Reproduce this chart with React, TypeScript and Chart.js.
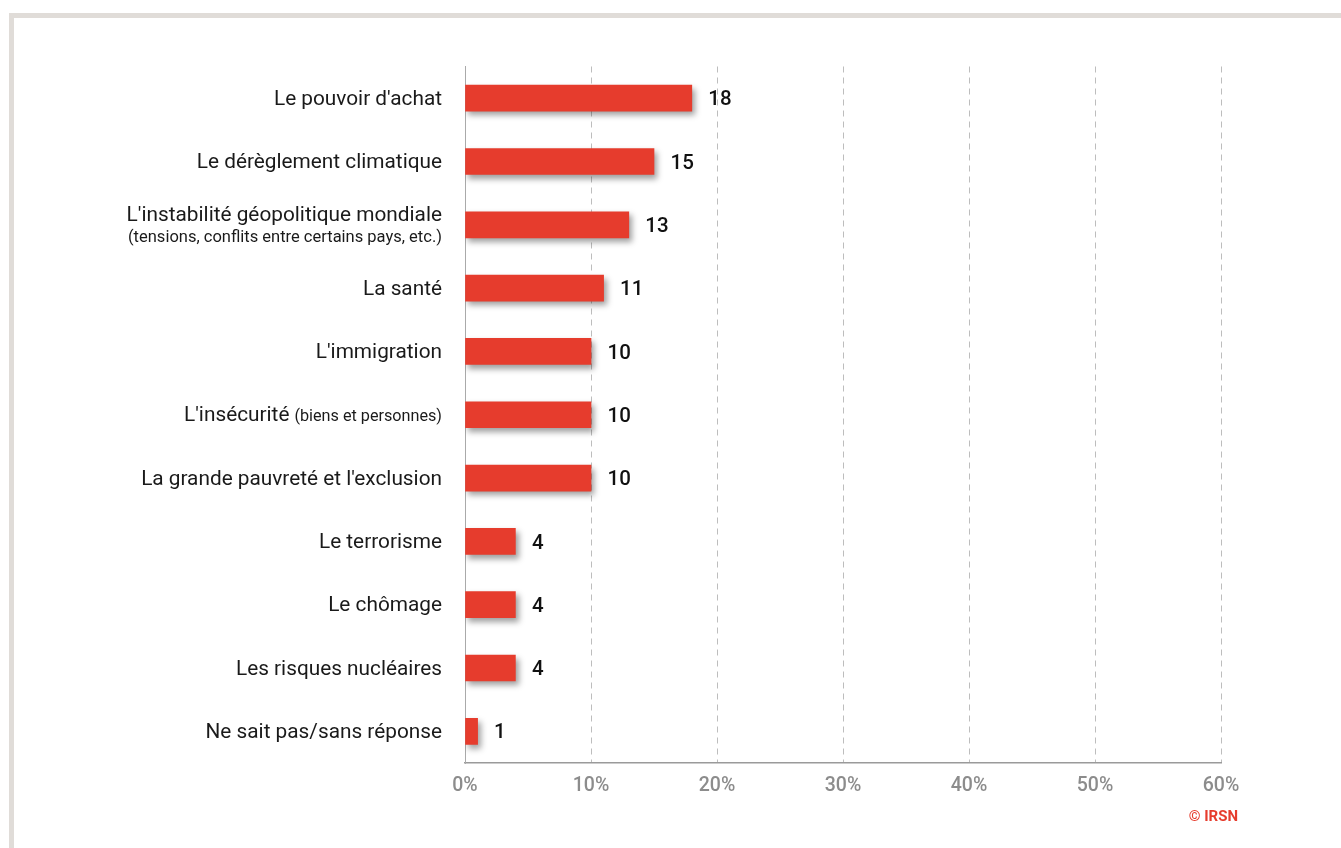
import React, { useEffect, useRef } from "react";
import { Chart, registerables } from "chart.js";

Chart.register(...registerables);

const categories = [
  "Le pouvoir d'achat",
  "Le dérèglement climatique",
  "L'instabilité géopolitique mondiale",
  "La santé",
  "L'immigration",
  "L'insécurité",
  "La grande pauvreté et l'exclusion",
  "Le terrorisme",
  "Le chômage",
  "Les risques nucléaires",
  "Ne sait pas/sans réponse",
];
const categoryNotes = ["", "", "(tensions, conflits entre certains pays, etc.)", "", "", "(biens et personnes)", "", "", "", "", ""];
const notePlacement = ["", "", "below", "", "", "inline", "", "", "", "", ""];
const values = [18, 15, 13, 11, 10, 10, 10, 4, 4, 4, 1];
const xTicks = [0, 10, 20, 30, 40, 50, 60];
const credit = "© IRSN";

const RED = "#e63c2d";
const FONT = "Roboto, 'Noto Sans', sans-serif";

const decorPlugin = {
  id: "decor",
  beforeDraw(chart: any) {
    const { ctx, width, height } = chart;
    ctx.save();
    ctx.fillStyle = "#ffffff";
    ctx.fillRect(0, 0, width, height);
    ctx.fillStyle = "#e0dcd8";
    ctx.fillRect(9, 13, width - 9, 5);
    ctx.fillRect(9, 13, 5, height - 13);
    ctx.restore();
  },
  beforeDatasetsDraw(chart: any) {
    const { ctx } = chart;
    ctx.save();
    ctx.shadowColor = "rgba(0,0,0,0.38)";
    ctx.shadowBlur = 6;
    ctx.shadowOffsetX = 3;
    ctx.shadowOffsetY = 4;
  },
  afterDatasetsDraw(chart: any) {
    const { ctx } = chart;
    ctx.restore();
    const meta = chart.getDatasetMeta(0);
    const yScale = chart.scales.y;
    ctx.save();
    // value labels
    ctx.fillStyle = "#111111";
    ctx.font = `500 20.5px ${FONT}`;
    ctx.textAlign = "left";
    ctx.textBaseline = "middle";
    meta.data.forEach((bar: any, i: number) => {
      ctx.fillText(String(values[i]), bar.x + 16.5, bar.y + 2);
    });
    // category labels
    const right = chart.chartArea.left - 23;
    ctx.fillStyle = "#1a1a1a";
    categories.forEach((label: string, i: number) => {
      const y = yScale.getPixelForValue(i) + 1.5;
      const note = categoryNotes[i];
      const place = notePlacement[i];
      ctx.textAlign = "right";
      ctx.textBaseline = "middle";
      if (place === "below") {
        ctx.font = `400 20.8px ${FONT}`;
        ctx.fillText(label, right, y - 10);
        ctx.font = `400 16.5px ${FONT}`;
        ctx.fillText(note, right, y + 12);
      } else if (place === "inline") {
        ctx.font = `400 16.2px ${FONT}`;
        const nw = ctx.measureText(note).width;
        ctx.fillText(note, right, y + 1);
        ctx.font = `400 20.8px ${FONT}`;
        ctx.fillText(label, right - nw - 5, y);
      } else {
        ctx.font = `400 20.8px ${FONT}`;
        ctx.fillText(label, right, y);
      }
    });
    // credit
    ctx.fillStyle = RED;
    ctx.font = `700 15px ${FONT}`;
    ctx.textAlign = "right";
    ctx.fillText(credit, 1238, 817);
    ctx.restore();
  },
};

export default function App() {
  const ref = useRef<HTMLCanvasElement>(null);
  useEffect(() => {
    if (!ref.current) return;
    const chart = new Chart(ref.current, {
      type: "bar",
      data: {
        labels: categories,
        datasets: [
          {
            data: values,
            backgroundColor: RED,
            borderWidth: 0,
            barThickness: 26,
          },
        ],
      },
      options: {
        indexAxis: "y",
        animation: false,
        responsive: false,
        layout: { padding: { top: 66.5, right: 120, left: 0, bottom: 0 } },
        plugins: {
          legend: { display: false },
          tooltip: { enabled: false },
        },
        scales: {
          x: {
            min: 0,
            max: 60,
            afterBuildTicks: (scale: any) => {
              scale.ticks = xTicks.map((v) => ({ value: v }));
            },
            afterFit: (scale: any) => {
              scale.height = 85;
            },
            grid: { color: "#bdbdbd", lineWidth: 1, drawTicks: false },
            border: { display: true, color: "#9a9a9a", width: 1.5, dash: [6, 5] },
            ticks: {
              padding: 11,
              color: "#8c8c8c",
              font: { family: FONT, size: 19.5, weight: "500" },
              callback: (v: any) => `${v}%`,
            },
          },
          y: {
            afterFit: (scale: any) => {
              scale.width = 465;
            },
            grid: { display: false, drawTicks: false },
            border: { display: true, color: "#aaaaaa", width: 1 },
            ticks: { display: false },
          },
        },
      },
      plugins: [decorPlugin],
    });
    return () => chart.destroy();
  }, []);
  return (
    <div style={{ position: "absolute", left: 0, top: 0, width: 1341, height: 848 }}>
      <canvas ref={ref} width={1341} height={848} style={{ display: "block", width: 1341, height: 848 }} />
    </div>
  );
}
